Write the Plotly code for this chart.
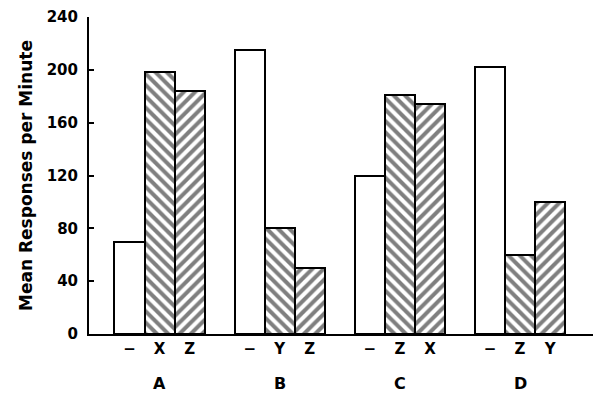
import plotly.graph_objects as go

# Mean responses per minute for each group and condition
groups = ["A", "B", "C", "D"]
first_labels = ["−", "−", "−", "−"]
second_labels = ["X", "Y", "Z", "Z"]
third_labels = ["Z", "Z", "X", "Y"]
first_values = [70, 215, 120, 202]
second_values = [198, 80, 181, 60]
third_values = [184, 50, 174, 100]
y_ticks = [0, 40, 80, 120, 160, 200, 240]

FONT = "DejaVu Sans"
bar_w = 0.25
centers = list(range(len(groups)))

series = [
    (first_labels, first_values, -1, ""),
    (second_labels, second_values, 0, "\\"),
    (third_labels, third_values, 1, "/"),
]

fig = go.Figure()
tickvals, ticktext = [], []
for labels, values, k, shape in series:
    xs = [c + k * bar_w for c in centers]
    tickvals += xs
    ticktext += labels
    fig.add_trace(go.Bar(
        x=xs, y=values, width=bar_w,
        marker=dict(
            color="white",
            line=dict(color="black", width=2),
            pattern=dict(shape=shape, fgcolor="black", bgcolor="white",
                         size=8, solidity=0.5),
        ),
        showlegend=False,
        hoverinfo="skip",
    ))

for c, g in zip(centers, groups):
    fig.add_annotation(x=c, y=-0.155, xref="x", yref="paper", text=g,
                       showarrow=False, yanchor="middle",
                       font=dict(family=FONT, size=16, color="black", weight="bold"))

fig.update_layout(
    width=600, height=394,
    margin=dict(l=89, r=7, t=17, b=60),
    paper_bgcolor="white", plot_bgcolor="white",
    bargap=0,
    xaxis=dict(
        range=[-0.587, 3.607],
        tickvals=tickvals, ticktext=ticktext,
        showline=True, linecolor="black", linewidth=2,
        ticks="", showgrid=False, zeroline=False,
        tickfont=dict(family=FONT, size=15, color="black", weight="bold"),
    ),
    yaxis=dict(
        range=[0, 240], tickvals=y_ticks,
        showline=True, linecolor="black", linewidth=2,
        ticks="inside", ticklen=5, tickwidth=2, tickcolor="black",
        showgrid=False, zeroline=False,
        ticklabelstandoff=6,
        tickfont=dict(family=FONT, size=15, color="black", weight="bold"),
        title=dict(text="Mean Responses per Minute", standoff=10,
                   font=dict(family=FONT, size=17, color="black", weight="bold")),
    ),
)

fig.write_html("out.html")
